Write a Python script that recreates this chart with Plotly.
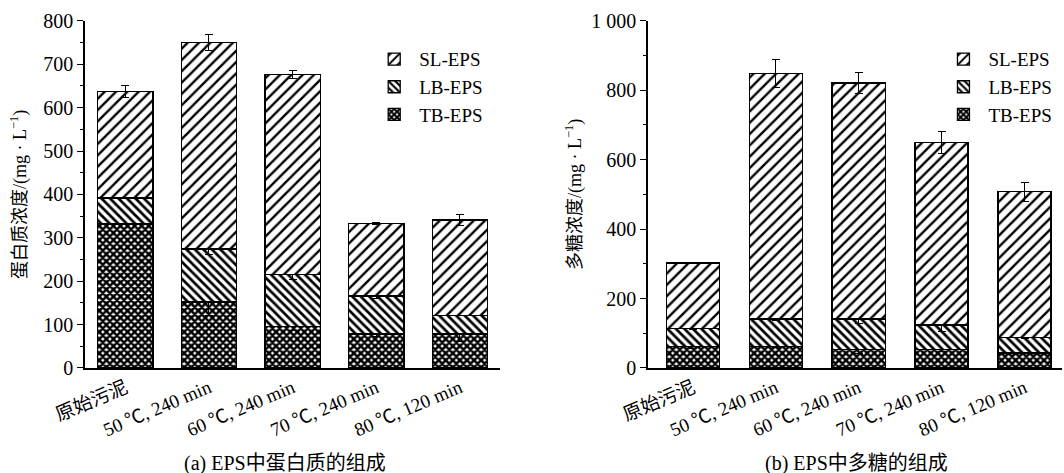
import plotly.graph_objects as go

categories = ["原始污泥", "50 ℃, 240 min", "60 ℃, 240 min", "70 ℃, 240 min", "80 ℃, 120 min"]
series_names = ["TB-EPS", "LB-EPS", "SL-EPS"]

# (a) protein
prot_tb = [332, 152, 95, 78, 78]
prot_lb = [60, 122, 121, 88, 43]
prot_sl = [245, 476, 460, 167, 220]
prot_tb_err = [0, 30, 8, 5, 17]
prot_lb_err = [0, 12, 12, 6, 0]
prot_sl_err = [14, 18, 10, 2, 12]

# (b) polysaccharide
poly_tb = [61, 61, 53, 53, 43]
poly_lb = [52, 80, 88, 71, 44]
poly_sl = [189, 707, 680, 526, 421]
poly_tb_err = [4, 3, 12, 5, 2]
poly_lb_err = [3, 3, 12, 20, 3]
poly_sl_err = [1, 40, 30, 32, 27]

left_ticks = [0, 100, 200, 300, 400, 500, 600, 700, 800]
right_ticks = [0, 200, 400, 600, 800, 1000]
right_ticktext = ["0", "200", "400", "600", "800", "1 000"]

patterns = {"SL-EPS": dict(shape="/", size=8, solidity=0.3),
            "LB-EPS": dict(shape="\\", size=6, solidity=0.45),
            "TB-EPS": dict(shape="x", size=5, solidity=0.75)}

SERIF = "Liberation Serif, Times New Roman, Noto Sans CJK SC"
fig = go.Figure()

def add_group(vals_list, errs_list, xa, ya, legend, width):
    for name, vals, errs in zip(series_names, vals_list, errs_list):
        p = patterns[name]
        fig.add_trace(go.Bar(
            x=list(range(len(categories))), y=vals, name=name,
            xaxis=xa, yaxis=ya, legend=legend, width=width,
            marker=dict(color="white", line=dict(color="black", width=1.3),
                        pattern=dict(shape=p["shape"], size=p["size"], solidity=p["solidity"],
                                     fgcolor="black", bgcolor="white", fgopacity=1, fillmode="overlay")),
            error_y=dict(type="data", array=errs, color="black", thickness=1, width=4),
        ))

add_group([prot_tb, prot_lb, prot_sl], [prot_tb_err, prot_lb_err, prot_sl_err], "x", "y", "legend", 0.66)
add_group([poly_tb, poly_lb, poly_sl], [poly_tb_err, poly_lb_err, poly_sl_err], "x2", "y2", "legend2", 0.64)

line_common = dict(showline=True, linecolor="black", linewidth=1.5, showgrid=False, zeroline=False)
xtickfont = dict(family=SERIF, size=19, color="black")
ytickfont = dict(family=SERIF, size=20, color="black")

fig.update_layout(
    width=1064, height=473, barmode="stack",
    margin=dict(l=0, r=0, t=0, b=0, autoexpand=False),
    paper_bgcolor="white", plot_bgcolor="white",
    font=dict(family=SERIF, color="black"),
    xaxis=dict(domain=[0.080, 0.470], range=[-0.48, 4.48], anchor="y",
               tickvals=list(range(5)), ticktext=categories, tickangle=-23, ticks="",
               tickfont=xtickfont, **line_common),
    yaxis=dict(domain=[0.222, 0.956], range=[0, 800], anchor="x",
               tickvals=left_ticks, ticks="outside", ticklen=6, tickwidth=1.3, tickcolor="black",
               minor=dict(dtick=50, ticks="outside", ticklen=3, tickwidth=1.3, tickcolor="black"),
               title=dict(text="蛋白质浓度/(mg · L<sup>−1</sup>)", font=dict(family=SERIF, size=18), standoff=12),
               tickfont=ytickfont, **line_common),
    xaxis2=dict(domain=[0.609, 0.998], range=[-0.54, 4.45], anchor="y2",
                tickvals=list(range(5)), ticktext=categories, tickangle=-23, ticks="",
                tickfont=xtickfont, **line_common),
    yaxis2=dict(domain=[0.222, 0.956], range=[0, 1000], anchor="x2",
                tickvals=right_ticks, ticktext=right_ticktext, ticks="outside", ticklen=6,
                tickwidth=1.3, tickcolor="black",
                minor=dict(dtick=100, ticks="outside", ticklen=3, tickwidth=1.3, tickcolor="black"),
                title=dict(text="多糖浓度/(mg · L<sup>−1</sup>)", font=dict(family=SERIF, size=18), standoff=5),
                tickfont=ytickfont, **line_common),
    legend=dict(x=0.347, y=0.915, xanchor="left", yanchor="top", bgcolor="rgba(0,0,0,0)",
                font=dict(family=SERIF, size=19), tracegroupgap=0, itemwidth=40, traceorder="reversed"),
    legend2=dict(x=0.882, y=0.915, xanchor="left", yanchor="top", bgcolor="rgba(0,0,0,0)",
                 font=dict(family=SERIF, size=19), tracegroupgap=0, itemwidth=40, traceorder="reversed"),
    showlegend=True,
)

cap_y = 1 - 463 / 473
fig.add_annotation(text="(a) EPS中蛋白质的组成", x=0.268, y=cap_y, xref="paper", yref="paper",
                   xanchor="center", yanchor="middle", showarrow=False,
                   font=dict(family=SERIF, size=20, color="black"))
fig.add_annotation(text="(b) EPS中多糖的组成", x=0.805, y=cap_y, xref="paper", yref="paper",
                   xanchor="center", yanchor="middle", showarrow=False,
                   font=dict(family=SERIF, size=20, color="black"))

fig.write_html("out.html", config={"displayModeBar": False},
               post_script="document.body.style.margin='0';document.body.style.overflow='hidden';")
